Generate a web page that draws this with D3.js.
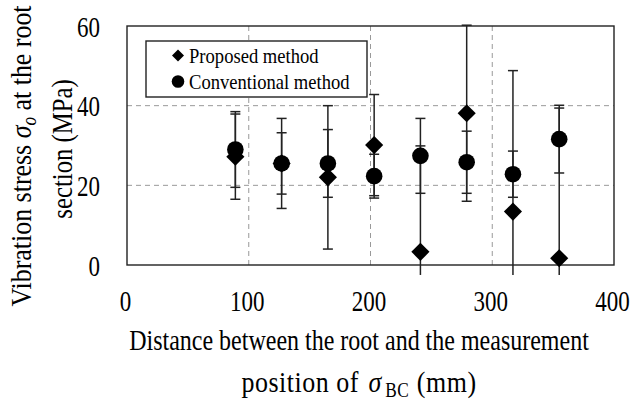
<!DOCTYPE html>
<html>
<head>
<meta charset="utf-8">
<script src="https://cdn.jsdelivr.net/npm/d3@7"></script>
<style>
  body { margin: 0; background: #fff; }
  svg text { font-family: "Liberation Serif", "Times New Roman", Times, "DejaVu Serif", serif; fill: #000; }
</style>
</head>
<body>
<script>
// measurement positions (mm)
var positions = [89, 127, 165, 203, 241, 279, 317, 355];
var proposed = [27.2, 25.5, 22.0, 30.1, 3.3, 38.1, 13.4, 1.7];
var proposedErr = [10.7, 11.3, 18.0, 12.7, 26.6, 22.1, 35.4, 37.7];
var conventional = [29.0, 25.5, 25.5, 22.3, 27.4, 25.8, 22.8, 31.6];
var conventionalErr = [9.5, 7.7, 8.5, 5.5, 9.4, 7.8, 5.8, 8.5];
var xTicks = [0, 100, 200, 300, 400];
var yTicks = [0, 20, 40, 60];

var W = 630, H = 405;
var margin = {top: 26, right: 16, bottom: 140, left: 127};
var width = W - margin.left - margin.right,
    height = H - margin.top - margin.bottom;
var serif = '"Liberation Serif", "Times New Roman", Times, "DejaVu Serif", serif';
var tall = 1.25; // the source font is taller than Times

var svg = d3.select("body").append("svg")
  .attr("width", W)
  .attr("height", H);

var g = svg.append("g")
  .attr("transform", "translate(" + margin.left + "," + margin.top + ")");

var x = d3.scaleLinear().domain([0, 400]).range([0, width]);
var y = d3.scaleLinear().domain([0, 60]).range([height, 0]);

// grid
g.append("g")
  .selectAll("line")
  .data(xTicks.filter(function(d) { return d > 0 && d < 400; }))
  .enter().append("line")
    .attr("x1", x).attr("x2", x)
    .attr("y1", 0).attr("y2", height)
    .attr("stroke", "#999")
    .attr("stroke-dasharray", "5,4");

g.append("g")
  .selectAll("line")
  .data(yTicks.filter(function(d) { return d > 0 && d < 60; }))
  .enter().append("line")
    .attr("x1", 0).attr("x2", width)
    .attr("y1", y).attr("y2", y)
    .attr("stroke", "#999")
    .attr("stroke-dasharray", "5,4");

// frame
g.append("rect")
  .attr("width", width).attr("height", height)
  .attr("fill", "none")
  .attr("stroke", "#222")
  .attr("stroke-width", 1.4);

// axes (labels only)
var xAxis = g.append("g")
  .attr("transform", "translate(0," + height + ")")
  .call(d3.axisBottom(x).tickValues(xTicks).tickSize(0));
xAxis.attr("font-family", serif).attr("font-size", 23);
xAxis.select(".domain").remove();
xAxis.selectAll("text")
  .attr("y", 0).attr("dy", 0)
  .attr("transform", "translate(-2,46) scale(1," + tall + ")");

var yAxis = g.append("g")
  .call(d3.axisLeft(y).tickValues(yTicks).tickSize(0));
yAxis.attr("font-family", serif).attr("font-size", 23);
yAxis.select(".domain").remove();
yAxis.selectAll("text")
  .attr("x", 0).attr("dy", 0)
  .attr("transform", "translate(-27,10) scale(1," + tall + ")");

// error bars
var floor = -2.5, capW = 5;
function errBars(vals, errs) {
  var eg = g.append("g").attr("stroke", "#222").attr("stroke-width", 1.5);
  vals.forEach(function(v, i) {
    var xp = x(positions[i]);
    var hi = Math.min(v + errs[i], 60.3), lo = Math.max(v - errs[i], floor);
    eg.append("line")
      .attr("x1", xp).attr("x2", xp)
      .attr("y1", y(hi)).attr("y2", y(lo));
    eg.append("line")
      .attr("x1", xp - capW).attr("x2", xp + capW)
      .attr("y1", y(hi)).attr("y2", y(hi));
    if (v - errs[i] > floor) {
      eg.append("line")
        .attr("x1", xp - capW).attr("x2", xp + capW)
        .attr("y1", y(lo)).attr("y2", y(lo));
    }
  });
}
errBars(proposed, proposedErr);
errBars(conventional, conventionalErr);

var diamond = d3.symbol().type(d3.symbolDiamond2).size(210);

g.selectAll("path.prop")
  .data(proposed)
  .enter().append("path")
    .attr("class", "prop")
    .attr("d", diamond)
    .attr("transform", function(d, i) { return "translate(" + x(positions[i]) + "," + y(d) + ")"; })
    .attr("fill", "#000");

g.selectAll("circle.conv")
  .data(conventional)
  .enter().append("circle")
    .attr("class", "conv")
    .attr("cx", function(d, i) { return x(positions[i]); })
    .attr("cy", function(d) { return y(d); })
    .attr("r", 8.3)
    .attr("fill", "#000");

// legend
var lg = svg.append("g").attr("transform", "translate(146,41)");
lg.append("rect")
  .attr("width", 221).attr("height", 56)
  .attr("fill", "#fff")
  .attr("stroke", "#222")
  .attr("stroke-width", 1.4);
lg.append("path")
  .attr("d", d3.symbol().type(d3.symbolDiamond2).size(92))
  .attr("transform", "translate(32,14.5)");
lg.append("circle").attr("cx", 32).attr("cy", 40.5).attr("r", 6.3);
lg.append("text")
  .attr("transform", "translate(43,21.5) scale(1,1.1)")
  .style("font-size", "18.6px").text("Proposed method");
lg.append("text")
  .attr("transform", "translate(43,48) scale(1,1.1)")
  .style("font-size", "18.6px").text("Conventional method");

// axis titles
svg.append("text")
  .attr("transform", "translate(359,350) scale(1," + tall + ")")
  .attr("text-anchor", "middle")
  .style("font-size", "24px")
  .text("Distance between the root and the measurement");

var xt2 = svg.append("text")
  .attr("transform", "translate(359,392) scale(1.08," + tall + ")")
  .attr("text-anchor", "middle")
  .style("font-size", "24px")
  .style("letter-spacing", "0.5px");
xt2.append("tspan").text("position of");
xt2.append("tspan").attr("dx", 9).style("font-style", "italic").text("σ");
xt2.append("tspan").attr("dx", 3).attr("dy", 4).style("font-size", "16px").text("BC");
xt2.append("tspan").attr("dx", 7).attr("dy", -4).text("(mm)");

var yt = svg.append("text")
  .attr("transform", "translate(31,156) rotate(-90) scale(1.08," + tall + ")")
  .attr("text-anchor", "middle")
  .style("font-size", "24px");
yt.append("tspan").text("Vibration stress ");
yt.append("tspan").style("font-style", "italic").text("σ");
yt.append("tspan").attr("dy", 4).style("font-size", "16px").style("font-style", "italic").text("o");
yt.append("tspan").attr("dy", -4).text(" at the root");

svg.append("text")
  .attr("transform", "translate(72,149) rotate(-90) scale(1.03," + tall + ")")
  .attr("text-anchor", "middle")
  .style("font-size", "24px")
  .text("section (MPa)");
</script>
</body>
</html>
